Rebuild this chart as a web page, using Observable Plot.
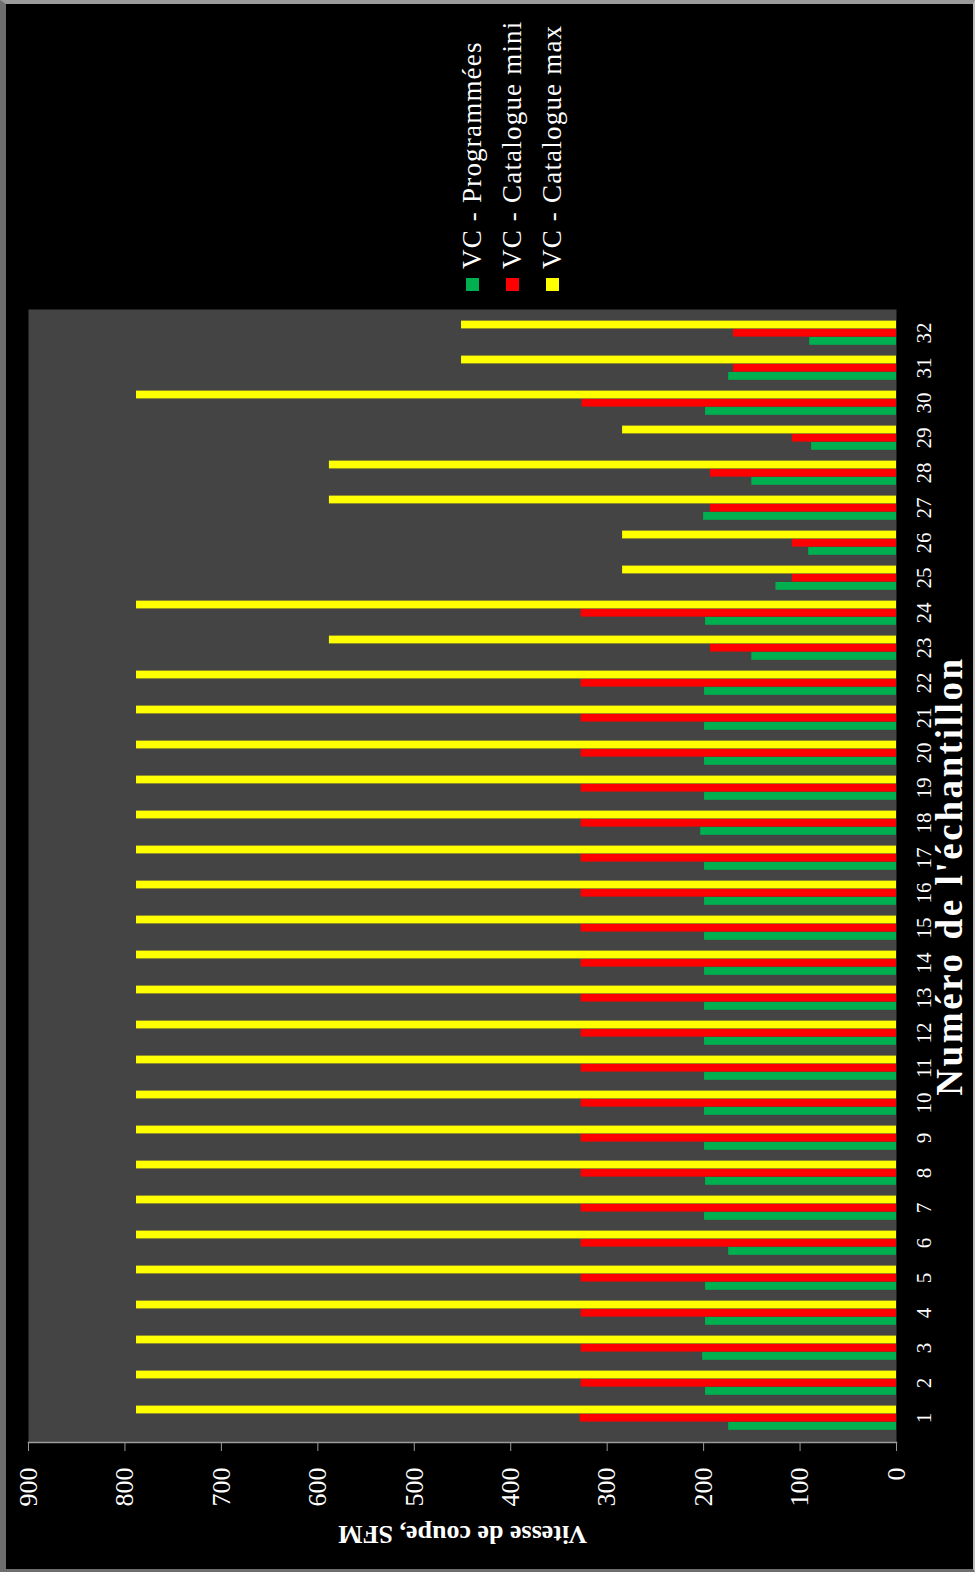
<!DOCTYPE html>
<html>
<head>
<meta charset="utf-8">
<script src="https://cdn.jsdelivr.net/npm/d3@7"></script>
<script src="https://cdn.jsdelivr.net/npm/@observablehq/plot@0.6"></script>
<style>
  html, body { margin: 0; padding: 0; background: #000; }
  #page { position: relative; width: 975px; height: 1572px; overflow: hidden; background: #000; }
  #chart { position: absolute; left: 0; top: 0; width: 1572px; height: 975px;
           transform-origin: 0 0; transform: translate(0px, 1572px) rotate(-90deg); }
  #chart svg { position: absolute; left: 0; top: 0; }
  #chart .xtitle text { letter-spacing: 2.6px; }
  #legend { position: absolute; left: 1281px; top: 452px; font-family: "Liberation Serif", "Times New Roman", serif;
            font-size: 27px; letter-spacing: 1.2px; color: #fff; }
  #legend .row { display: flex; align-items: center; height: 40px; }
  #legend .sw { width: 13px; height: 13px; margin-right: 9px; }
  #frame { position: absolute; inset: 0; pointer-events: none; box-sizing: border-box;
           border-left: 6px solid #6e6e6e; border-top: 4px solid #9a9a9a; border-right: 2px solid #bdbdbd; border-bottom: 3px solid #6e6e6e; }
</style>
</head>
<body>
<div id="page"><div id="chart"></div><div id="frame"></div></div>
<script>
// ---- data ----
const samples = ["1","2","3","4","5","6","7","8","9","10","11","12","13","14","15","16",
                 "17","18","19","20","21","22","23","24","25","26","27","28","29","30","31","32"];
const vcProgrammees = [174,198,201,198,198,174,199,198,199,199,199,199,199,199,199,199,
                       199,203,199,199,199,199,150,198,125,91,200,150,88,198,174,90];
const vcCatalogueMini = [328,327,327,327,327,327,327,327,327,327,327,327,327,327,327,327,
                         327,327,327,327,327,327,193,327,108,108,193,193,108,326,169,169];
const vcCatalogueMax = [788,788,788,788,788,788,788,788,788,788,788,788,788,788,788,788,
                        788,788,788,788,788,788,588,788,284,284,588,588,284,788,451,451];
const seriesNames = ["VC - Programmées", "VC - Catalogue mini", "VC - Catalogue max"];
const seriesColors = ["#00b050", "#ff0000", "#ffff00"];
const valueTicks = [0,100,200,300,400,500,600,700,800,900];
const xTitle = "Numéro de l'échantillon";
const yTitle = "Vitesse de coupe, SFM";

const data = samples.map((s, i) => ({sample: s, prog: vcProgrammees[i], mini: vcCatalogueMini[i], max: vcCatalogueMax[i]}));

// ---- layout (original, unrotated orientation) ----
const W = 1572, H = 975;
const mL = 129, mR = 310, mT = 28, mB = 79;
const step = (W - mL - mR) / samples.length;
const barW = 8.2, first = 6.2;
function insets(k) {
  const l = first + k * barW;
  return {insetLeft: l, insetRight: step - l - barW};
}
const fields = ["prog", "mini", "max"];

const chart = Plot.plot({
  width: W, height: H,
  marginLeft: mL, marginRight: mR, marginTop: mT, marginBottom: mB,
  style: {background: "transparent", color: "#fff", fontFamily: "'Liberation Serif', 'Times New Roman', serif"},
  x: {domain: samples, padding: 0},
  y: {domain: [0, 900]},
  marks: [
    Plot.frame({fill: "#444444"}),
    ...fields.map((f, k) => Plot.barY(data, {x: "sample", y: f, fill: seriesColors[k], ...insets(k)})),
    Plot.frame({anchor: "left", stroke: "#9a9a9a", strokeWidth: 1.5}),
    Plot.axisY(valueTicks, {tickSize: 8, tickPadding: 17, fontSize: 26, fill: "#fff", stroke: "#9a9a9a", label: null}),
    Plot.axisX({tickSize: 0, tickPadding: 20, fontSize: 21, fill: "#fff", label: null}),
    Plot.text([xTitle], {frameAnchor: "bottom", dy: 54, lineAnchor: "middle", textAnchor: "middle", fontSize: 37, fontWeight: "bold", fill: "#fff", className: "xtitle"}),
    Plot.text([yTitle], {frameAnchor: "left", dx: -92, rotate: -90, lineAnchor: "middle", textAnchor: "middle", fontSize: 26, fontWeight: "bold", fill: "#fff"})
  ]
});

const host = document.getElementById("chart");
host.appendChild(chart);

const legend = document.createElement("div");
legend.id = "legend";
seriesNames.forEach((name, k) => {
  const row = document.createElement("div");
  row.className = "row";
  const sw = document.createElement("span");
  sw.className = "sw";
  sw.style.background = seriesColors[k];
  const t = document.createElement("span");
  t.textContent = name;
  row.appendChild(sw); row.appendChild(t);
  legend.appendChild(row);
});
host.appendChild(legend);
</script>
</body>
</html>
